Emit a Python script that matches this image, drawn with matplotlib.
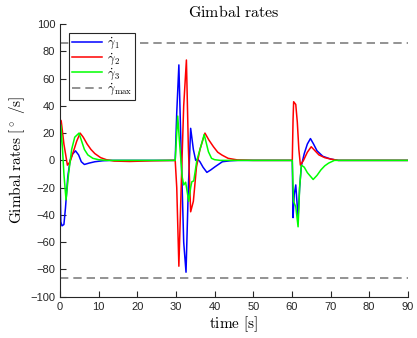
import matplotlib
matplotlib.use('Agg')
import matplotlib.pyplot as plt

plt.rcParams['mathtext.fontset'] = 'cm'
plt.rcParams['font.family'] = ['Liberation Sans', 'DejaVu Sans']

# gimbal rate 1 (blue)
t1 = [0, 0.2, 0.5, 1.0, 1.4, 2.0, 2.6, 3.2, 4.0, 4.8, 5.5, 6.3, 7.5, 9, 11, 13,
      29.8, 30.2, 30.75, 31.3, 32.0, 32.6, 33.2, 33.8, 34.5, 35.1, 35.6, 36.2, 37.0,
      38.0, 39.0, 40.1, 42, 44, 46,
      60.1, 60.3, 60.6, 61.0, 61.3, 61.6, 62.0, 62.45, 63.2, 64.0, 64.8, 65.6, 66.5,
      68, 70, 72, 90]
g1 = [-8, -45, -48, -47, -35, -12, 0, 4.5, 7, 4, -1, -3, -2, -1, -0.3, 0,
      0, 35, 70, 10, -60, -82, -20, 23.5, 8, 0, 1, -1, -5,
      -8.8, -7, -4.7, -1, -0.3, 0,
      0, -42, -25, -18, -30, -42, -20, -4, 5, 12, 16, 12, 7,
      3, 1, 0, 0]

# gimbal rate 2 (red)
t2 = [0, 0.3, 1.0, 1.9, 2.6, 3.4, 4.3, 5.2, 6.0, 7.0, 8.0, 9.0, 10.5, 12, 14, 18, 24,
      29.8, 30.2, 30.75, 31.5, 32.0, 32.7, 33.2, 33.8, 34.5, 35.3, 36.2, 37.5, 38.5,
      39.7, 40.8, 41.9, 43.5, 46, 50,
      60.1, 60.3, 60.45, 61.0, 61.4, 61.8, 62.2, 63.0, 64.0, 65.0, 66.0, 67.0, 68.5,
      70, 72, 90]
g2 = [30, 29, 12, -3.5, -1, 6, 14, 20, 17, 12, 8, 5, 2, 0.5, -0.5, -0.8, -0.3,
      0, -20, -77.6, -5, 40, 73.6, 10, -37.7, -30, -5, 8, 20, 15,
      10, 6, 3.9, 1.5, 0.3, 0,
      0, 30, 43, 41, 28, 8, -3.5, 0, 6, 10, 7, 4, 2,
      1, 0, 0]

# gimbal rate 3 (green)
t3 = [0, 0.2, 0.6, 1.0, 1.55, 2.2, 3.0, 3.8, 4.9, 5.6, 6.3, 7.2, 8.5, 10, 12,
      29.8, 30.45, 31.0, 31.6, 32.0, 32.5, 33.3, 33.8, 34.1, 34.6, 35.4, 36.3, 37.3,
      38.4, 39.2, 40.0, 41.5, 43,
      60.1, 60.4, 61.0, 61.6, 62.0, 62.45, 63.2, 64.0, 65.5, 66.5, 67.5, 68.5, 69.5,
      71, 90]
g3 = [2, 26, 10, -10, -29, -10, 8, 17, 20, 14, 8, 4, 1.5, 0.5, 0,
      0, 32.5, 10, -12, -18, -16, -30, -20, -15.7, -15, 0, 8.8, 19,
      6.3, 1.5, 0.5, 0, 0,
      0, -30, -34, -48.7, -20, -3.5, -5, -9, -14, -11, -7, -4, -2,
      0, 0]

rate_max = 86

fig = plt.figure(figsize=(4.17, 3.38), dpi=100)
ax = fig.add_axes([0.144, 0.122, 0.834, 0.807])

ax.plot(t1, g1, color=(0, 0, 1), lw=1.1, label=r'$\dot{\gamma}_1$')
ax.plot(t2, g2, color=(1, 0, 0), lw=1.1, label=r'$\dot{\gamma}_2$')
ax.plot(t3, g3, color=(0, 1, 0), lw=1.1, label=r'$\dot{\gamma}_3$')
ax.axhline(rate_max, color='0.5', ls=(0, (5, 3)), lw=1.2, label=r'$\dot{\gamma}_{\max}$')
ax.axhline(-rate_max, color='0.5', ls=(0, (5, 3)), lw=1.2)

ax.set_xlim(0, 90)
ax.set_ylim(-100, 100)
ax.set_xticks(range(0, 91, 10))
ax.set_yticks(range(-100, 101, 20))
ax.spines['top'].set_visible(False)
ax.spines['right'].set_visible(False)
for s in ('left', 'bottom'):
    ax.spines[s].set_color('0.15')
    ax.spines[s].set_linewidth(0.8)
ax.tick_params(direction='in', length=4, width=0.8, colors='0.15', labelsize=8)

ax.set_title(r'$\mathrm{Gimbal\ rates}$', fontsize=11.5, pad=5)
ax.set_xlabel(r'$\mathrm{time\ [s]}$', fontsize=11, labelpad=2)
ax.set_ylabel(r'$\mathrm{Gimbal\ rates\ [^\circ\ /s]}$', fontsize=11, labelpad=2)

leg = ax.legend(loc='upper left', fontsize=9, fancybox=False, framealpha=1,
                edgecolor='0.15', handlelength=2.4, handletextpad=0.35,
                labelspacing=0.0, borderpad=0.25, borderaxespad=0,
                bbox_to_anchor=(0.026, 0.967))
leg.get_frame().set_linewidth(0.8)

fig.savefig('out.png', dpi=100)
